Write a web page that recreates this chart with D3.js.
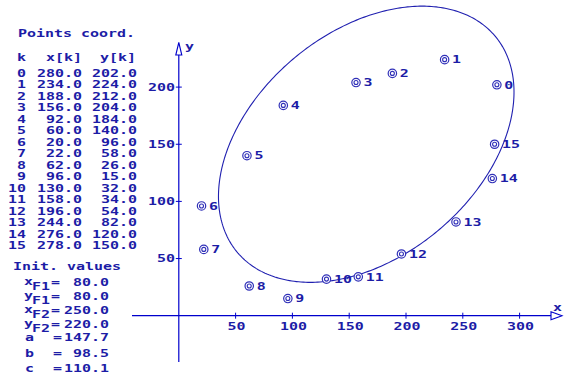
<!DOCTYPE html>
<html>
<head>
<meta charset="utf-8">
<script src="https://cdn.jsdelivr.net/npm/d3@7"></script>
<style>
  html, body { margin: 0; padding: 0; background: #ffffff; }
  svg { display: block; }
</style>
</head>
<body>
<script>
// Measured points
const pointK = [0, 1, 2, 3, 4, 5, 6, 7, 8, 9, 10, 11, 12, 13, 14, 15];
const pointX = [280, 234, 188, 156, 92, 60, 20, 22, 62, 96, 130, 158, 196, 244, 276, 278];
const pointY = [202, 224, 212, 204, 184, 140, 96, 58, 26, 15, 32, 34, 54, 82, 120, 150];

// Initial ellipse parameters (foci and semi-axes)
const focus1 = [80, 80];
const focus2 = [250, 220];
const semiA = 147.7;
const semiB = 98.5;
const focalC = 110.1;

// Axis ticks
const xTicks = [50, 100, 150, 200, 250, 300];
const yTicks = [50, 100, 150, 200];

const W = 571, H = 377;
const TEXT = "#1c1ca6";
const LINE = "#0000cc";
const ADV = 9; // character cell width of the fixed-pitch labels

const svg = d3.select("body").append("svg")
  .attr("width", W).attr("height", H)
  .attr("font-family", "'DejaVu Sans Mono', monospace")
  .attr("font-weight", "bold");

const x = d3.scaleLinear().domain([0, 300]).range([178.8, 519.6]);
const y = d3.scaleLinear().domain([0, 200]).range([315.7, 87.1]);

// fixed-pitch text: left edge at px, or right edge when align === "end"
function label(str, px, py, align, size) {
  str = String(str);
  const w = str.length * ADV;
  const left = align === "end" ? px - (w - 2) : align === "middle" ? px - (w - 2) / 2 : px;
  return svg.append("text")
    .attr("x", left).attr("y", py)
    .attr("font-size", size || 10.5)
    .attr("fill", TEXT)
    .attr("textLength", w)
    .attr("lengthAdjust", "spacingAndGlyphs")
    .text(str);
}

// ---- coordinate table ----
label("Points coord.", 18, 37);
label("k", 17, 61);
label("x[k]", 80, 61, "end");
label("y[k]", 134, 61, "end");
pointK.forEach((k, i) => {
  const by = 76.5 + i * 11.5;
  label(k, 24, by, "end");
  label(pointX[i].toFixed(1), 80, by, "end");
  label(pointY[i].toFixed(1), 135, by, "end");
});

// ---- initial values ----
label("Init. values", 13, 270);
const initRows = [
  ["x", "F1", focus1[0], 285.5],
  ["y", "F1", focus1[1], 299.5],
  ["x", "F2", focus2[0], 313.5],
  ["y", "F2", focus2[1], 327.5]
];
initRows.forEach(r => {
  label(r[0], 24, r[3] - 1);
  label(r[1], 32, r[3] + 4, null, 10);
  label("=", 51, r[3]);
  label(r[2].toFixed(1), 107, r[3], "end");
});
[["a", semiA, 341], ["b", semiB, 357], ["c", focalC, 372]].forEach(r => {
  label(r[0], 25, r[2]);
  label("=", 53, r[2]);
  label(r[1].toFixed(1), 107, r[2], "end");
});

// ---- axes ----
svg.append("line").attr("x1", 132).attr("x2", 551)
  .attr("y1", y(0)).attr("y2", y(0)).attr("stroke", LINE).attr("stroke-width", 1.2);
svg.append("line").attr("x1", x(0)).attr("x2", x(0))
  .attr("y1", 362).attr("y2", 55).attr("stroke", LINE).attr("stroke-width", 1.2);

// open arrow heads
svg.append("path")
  .attr("d", `M551,${y(0) - 4}L562,${y(0)}L551,${y(0) + 4}Z`)
  .attr("fill", "#fff").attr("stroke", LINE).attr("stroke-width", 1.1);
svg.append("path")
  .attr("d", `M${x(0) - 3},55L${x(0)},42.5L${x(0) + 3},55Z`)
  .attr("fill", "#fff").attr("stroke", LINE).attr("stroke-width", 1.1);
label("x", 553, 311);
label("y", 185, 50);

xTicks.forEach(t => {
  svg.append("line").attr("x1", x(t)).attr("x2", x(t))
    .attr("y1", y(0) - 3).attr("y2", y(0) + 3).attr("stroke", LINE);
  label(t, x(t), 330, "middle");
});
yTicks.forEach(t => {
  svg.append("line").attr("x1", x(0) - 3).attr("x2", x(0) + 3)
    .attr("y1", y(t)).attr("y2", y(t)).attr("stroke", LINE);
  label(t, 173, y(t) + 3.7, "end");
});

// ---- ellipse from foci and semi-axes ----
const cx = (focus1[0] + focus2[0]) / 2;
const cy = (focus1[1] + focus2[1]) / 2;
const theta = Math.atan2(focus2[1] - focus1[1], focus2[0] - focus1[0]);
const ts = d3.range(0, 361, 1).map(d => d * Math.PI / 180);
const ell = ts.map(t => [
  cx + semiA * Math.cos(t) * Math.cos(theta) - semiB * Math.sin(t) * Math.sin(theta),
  cy + semiA * Math.cos(t) * Math.sin(theta) + semiB * Math.sin(t) * Math.cos(theta)
]);
svg.append("path")
  .attr("d", d3.line().x(d => x(d[0])).y(d => y(d[1]))(ell))
  .attr("fill", "none").attr("stroke", "#2020b0").attr("stroke-width", 1.1);

// ---- point markers ----
pointK.forEach((k, i) => {
  const px = x(pointX[i]), py = y(pointY[i]);
  svg.append("circle").attr("cx", px).attr("cy", py).attr("r", 4.2)
    .attr("fill", "#fff").attr("stroke", "#3030b8").attr("stroke-width", 1.2);
  svg.append("circle").attr("cx", px).attr("cy", py).attr("r", 2)
    .attr("fill", "none").attr("stroke", "#3030b8").attr("stroke-width", 1.1);
  label(k, px + 7.5, py + 3.8);
});
</script>
</body>
</html>
